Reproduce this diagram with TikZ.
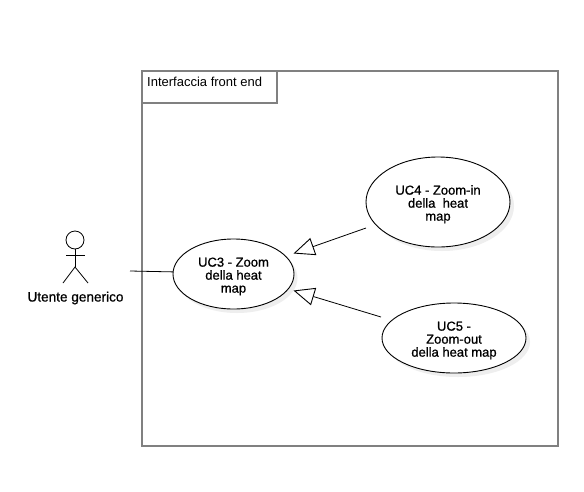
\documentclass[tikz,border=0pt]{standalone}
\usepackage{fontspec}
\setmainfont{Liberation Sans}
\newfontfamily\fakebold[FakeBold=0.8]{Liberation Sans}
\newcommand{\ucstrut}{\rule{0pt}{14pt}}
\usetikzlibrary{arrows.meta,shapes.geometric,calc}
\definecolor{framegray}{HTML}{808080}
\definecolor{shadowgray}{HTML}{EEEEEE}
\tikzset{
  x=1pt,y=-1pt,
  usecase/.style={ellipse,draw=black,fill=white,line width=0.9pt,inner sep=0pt,outer sep=0pt,minimum width=#1,align=center,font=\fontsize{13}{13}\fakebold},
  shadowshape/.style={ellipse,fill=shadowgray,inner sep=0pt,outer sep=0pt},
  framebox/.style={draw=framegray,line width=1.8pt,outer sep=0pt,inner sep=0pt},
  conn/.style={draw=black,line width=0.8pt},
  gen/.style={conn,-{Triangle[open,length=21pt,width=18pt,line width=0.9pt]}},
  actorline/.style={draw=black,line width=0.8pt},
  lbl/.style={inner sep=0pt,font=\fontsize{13}{13}\selectfont}
}
\begin{document}
\begin{tikzpicture}
\useasboundingbox (0,0) rectangle (584,491);
\fill[white] (0,0) rectangle (584,491);
% frame
\node[framebox,fill=white,minimum width=416pt,minimum height=375pt,anchor=north west] (frame) at (142,71) {};
\node[framebox,fill=white,minimum width=135pt,minimum height=32pt,anchor=north west] (tab) at (142,71) {};
\node[lbl,anchor=west] (tabtext) at (147,82) {Interfaccia front end};
% shadows
\node[shadowshape,minimum width=121pt,minimum height=70pt] at (237,278) {};
\node[shadowshape,minimum width=144pt,minimum height=90pt] at (442,206) {};
\node[shadowshape,minimum width=144pt,minimum height=70pt] at (458,342) {};
% use cases
\node[usecase=121pt,minimum height=70pt] (uc3) at (233.5,274) {\ucstrut UC3 - Zoom\\della heat\\map};
\node[usecase=144pt,minimum height=90pt] (uc4) at (438,202) {\ucstrut UC4 - Zoom-in\\della\ \ heat\\map};
\node[usecase=144pt,minimum height=70pt] (uc5) at (454,338) {\ucstrut UC5 -\\Zoom-out\\della heat map};
% actor
\node[circle,draw=black,line width=0.8pt,minimum size=18pt,inner sep=0pt,outer sep=0pt] (head) at (75,240) {};
\coordinate (armL) at (66,255);
\coordinate (armR) at (85,255);
\coordinate (hip) at (75,267);
\coordinate (legL) at (63,283);
\coordinate (legR) at (88,283);
\draw[actorline] (head.south) -- (hip);
\draw[actorline] (armL) -- (armR);
\draw[actorline] (legL) -- (hip) -- (legR);
\node[lbl,font=\fontsize{13.6}{14}\fakebold] (actorlabel) at (75.5,298) {Utente generico};
% connectors
\coordinate (actorend) at (130,271);
\draw[conn] (actorend) -- (uc3.178);
\coordinate (tip4) at (293.5,253.5);
\coordinate (tip5) at (293.5,290.5);
\coordinate (start4) at (366,228);
\coordinate (start5) at (381,317);
\draw[gen] (start4) -- (tip4);
\draw[gen] (start5) -- (tip5);
\end{tikzpicture}
\end{document}
